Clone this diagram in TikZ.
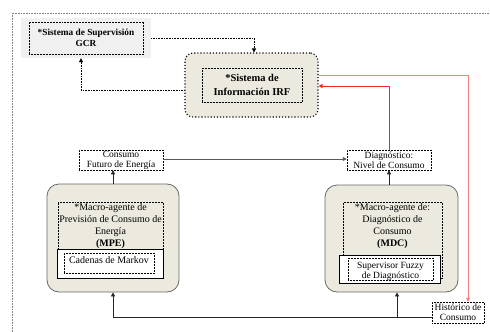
\documentclass[tikz,border=0pt]{standalone}
\usepackage{fontspec}
\setmainfont{Liberation Serif}
\usetikzlibrary{arrows.meta}
\definecolor{beige}{RGB}{236,233,222}
\definecolor{lgray}{RGB}{240,240,240}
\definecolor{framegray}{RGB}{105,105,105}
\definecolor{redline}{RGB}{240,40,40}
\begin{document}
\begin{tikzpicture}[x=1pt,y=-1pt,
  dbox/.style={draw, densely dotted, line width=0.5pt, inner sep=0.5pt, align=center},
  agent/.style={draw=framegray, line width=0.8pt, fill=beige, rounded corners=12pt},
  solidbox/.style={draw, line width=0.8pt, fill=white},
  smalltxt/.style={font=\fontsize{9.5}{10}\selectfont},
  normtxt/.style={font=\fontsize{10}{12}\selectfont},
  tip/.style={-{Triangle[length=4pt,width=4pt]}},
  dotconn/.style={tip, densely dotted, line width=0.6pt},
  redconn/.style={tip, redline, line width=0.8pt},
  blackconn/.style={tip, black!85, line width=0.8pt}
]
\useasboundingbox (0,0) rectangle (490,332);
\fill[white] (0,0) rectangle (490,332);
% outer frame
\draw[densely dotted, gray, line width=0.6pt] (12,332) -- (12,13) -- (490,13);

% GCR
\node[fill=lgray, minimum width=130pt, minimum height=40pt, inner sep=0] (gcrbg) at (86,38) {};
\node[dbox, minimum width=114pt, minimum height=32pt, font=\bfseries\fontsize{9.3}{11}\selectfont] (gcr) at (86,38) {*Sistema de Supervisión\\GCR};

% IRF
\node[draw, dotted, line width=1.1pt, rounded corners=8pt, fill=beige, minimum width=133pt, minimum height=64pt] (irf) at (251.5,85) {};
\node[dbox, minimum width=100pt, minimum height=34pt, font=\bfseries\fontsize{10.5}{14}\selectfont] (irfin) at (252,85) {*Sistema de\\Información IRF};

% small boxes
\node[dbox, smalltxt, minimum width=84pt, minimum height=20pt] (cf) at (121,160) {Consumo\\Futuro de Energía};
\node[dbox, smalltxt, minimum width=84pt, minimum height=20pt] (diag) at (389,160) {Diagnóstico:\\Nivel de Consumo};
\node[dbox, smalltxt, minimum width=52pt, minimum height=21pt] (hist) at (458,312.5) {Histórico de\\Consumo};

% MPE
\node[agent, minimum width=132pt, minimum height=108pt] (mpe) at (113,238) {};
\node[dbox, minimum width=105pt, minimum height=76pt] (mpein) at (110.5,240) {};
\node[anchor=north, align=center, normtxt, inner sep=0] (mpetxt) at (110.5,203) {*Macro-agente de\\Previsión de Consumo de\\Energía\\\textbf{(MPE)}};
\node[solidbox, minimum width=106pt, minimum height=29pt] (mpesol) at (110,263.5) {};
\node[dbox, minimum width=90pt, minimum height=20pt] (markov) at (109,263) {};
\node[normtxt, inner sep=0] (markovtxt) at (109,260) {Cadenas de Markov};

% MDC
\node[agent, minimum width=133pt, minimum height=107pt] (mdc) at (391.5,238.5) {};
\node[dbox, minimum width=99pt, minimum height=76pt] (mdcin) at (392.5,240) {};
\node[anchor=north, align=center, normtxt, inner sep=0] (mdctxt) at (392.5,203) {*Macro-agente de:\\Diagnóstico de\\Consumo\\\textbf{(MDC)}};
\node[solidbox, minimum width=101pt, minimum height=28pt] (mdcsol) at (389.5,269) {};
\node[dbox, minimum width=85pt, minimum height=22pt] (fuzzy) at (390.5,269) {};
\node[align=center, inner sep=0, font=\fontsize{9.5}{10}\selectfont] (fuzzytxt) at (390.5,271) {Supervisor Fuzzy\\de Diagnóstico};

% connectors
\draw[dotconn] (gcrbg.east) -| ([xshift=2.5pt]irf.north);
\draw[dotconn] ([yshift=-5pt]irf.west) -| ([xshift=-5pt]gcrbg.south);
\draw[redconn, redline!60] ([yshift=10pt]irf.east) -| ([xshift=10pt]hist.north);
\draw[redconn] (diag.north) |- ([yshift=-1pt]irf.east);
\draw[tip, line width=1pt, black!65] ([yshift=1pt]cf.east) -- ([yshift=1pt]diag.west);
\draw[blackconn] (mpe.north) -- (mpe.north |- cf.south);
\draw[blackconn] (diag.south |- mdc.north) -- (diag.south);
\coordinate (bus) at ([yshift=-4.5pt]hist.west);
\draw[blackconn] (bus) -| (mpe.south);
\draw[blackconn] ([xshift=5.5pt]mdc.south |- bus) -- ([xshift=5.5pt]mdc.south);
\end{tikzpicture}
\end{document}
